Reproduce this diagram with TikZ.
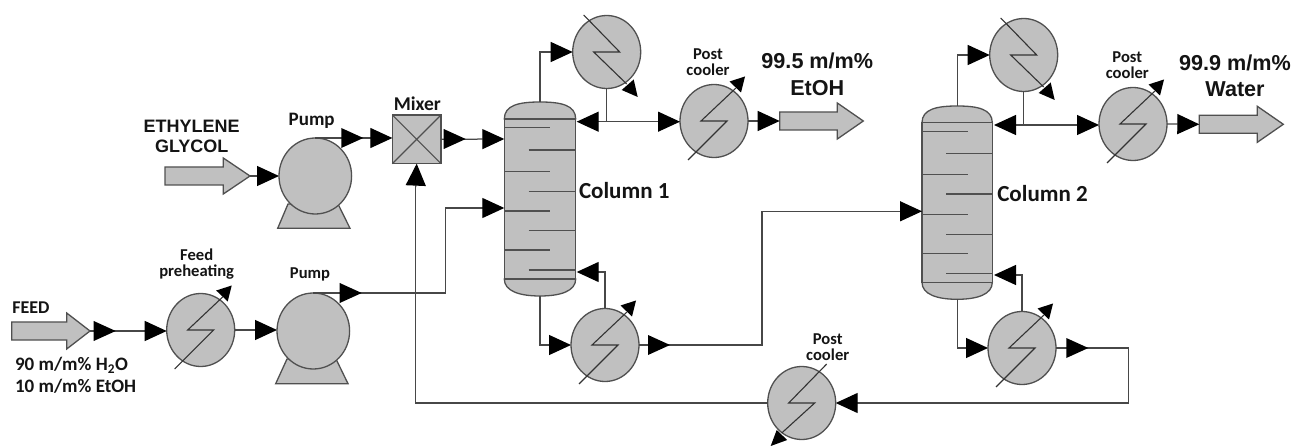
\documentclass[tikz,border=0pt]{standalone}
\usepackage{fontspec}
\setmainfont{Carlito}
\newfontfamily\arl{Liberation Sans}
\usetikzlibrary{shapes.geometric,arrows.meta,calc}
\definecolor{eqfill}{HTML}{C0C0C0}
\definecolor{eqline}{HTML}{505050}
\tikzset{
  eqstyle/.style={draw=eqline,fill=eqfill,line width=1.3pt},
  hx/.style={eqstyle,ellipse,minimum width=68pt,minimum height=73pt,inner sep=0pt,outer sep=0pt},
  pumpbody/.style={eqstyle,ellipse,minimum width=72.6pt,minimum height=76pt,inner sep=0pt,outer sep=0pt},
  colbody/.style={eqstyle,rectangle,inner sep=0pt,outer sep=0pt},
  mixbox/.style={eqstyle,rectangle,minimum width=48.7pt,minimum height=48.7pt,inner sep=0pt,outer sep=0pt},
  coil/.style={draw=black!80,line width=1.1pt},
  tray/.style={draw=eqline,line width=1.2pt},
  flow/.style={draw=black!72,line width=1.25pt},
  flowin/.style={flow,-{Triangle[length=22pt,width=20pt,fill=black,color=black]}},
  tip/.style={fill=black},
  lab/.style 2 args={font=\fontsize{#1}{#2}\selectfont\bfseries,inner sep=0pt,outer sep=0pt,align=center,text=black!92},
  alab/.style 2 args={font=\arl\fontsize{#1}{#2}\selectfont\bfseries,inner sep=0pt,outer sep=0pt,align=center,text=black!92},
}
% arrowhead in the run of a line: tip x, tip y, direction
\newcommand{\midtip}[3]{\fill[tip,shift={(#1,#2)},rotate=#3] (0,0)--(-22,10)--(-22,-10)--cycle;}
% hollow process stream arrow: tail x, tip x, y, head base x
\newcommand{\bigarrow}[5]{\node[eqstyle,inner sep=0pt,minimum size=0pt] (#1) at (#2,#4) {};
  \filldraw[eqstyle] (#2,#4-9)--(#5,#4-9)--(#5,#4-18)--(#3,#4)--(#5,#4+18)--(#5,#4+9)--(#2,#4+9)--cycle;}
\newcommand{\hxup}[1]{\begin{scope}[shift={(#1.center)}]
  \draw[coil] (-26,39)--(13,0)--(-13,0)--(22,-33);
  \fill[tip] (31,-44.5)--(15.5,-39.5)--(27,-28.5)--cycle;\end{scope}}
\newcommand{\hxdown}[1]{\begin{scope}[shift={(#1.center)}]
  \draw[coil] (-23,-37)--(13,0)--(-13,0)--(20,32);
  \fill[tip] (31,45)--(15,38)--(27,27.5)--cycle;\end{scope}}
\newcommand{\hxback}[1]{\begin{scope}[shift={(#1.center)}]
  \draw[coil] (25,-39)--(-13,0)--(13,0)--(-20,30);
  \fill[tip] (-31,43)--(-14.5,37)--(-25,27)--cycle;\end{scope}}
\newcommand{\domes}[5]{% left, right, top apex, top line, bottom line
  \filldraw[eqstyle] (#1,#4) .. controls (#1,#3+3) and (#1+15,#3) .. ({(#1+#2)/2},#3) .. controls (#2-15,#3) and (#2,#3+3) .. (#2,#4)--cycle;
  \filldraw[eqstyle] (#1,#5) .. controls (#1,#5+12) and (#1+15,#5+17) .. ({(#1+#2)/2},#5+17) .. controls (#2-15,#5+17) and (#2,#5+12) .. (#2,#5)--cycle;}
\begin{document}
\begin{tikzpicture}[x=1pt,y=-1pt]
\useasboundingbox (0,0) rectangle (1293,446);
% ------- equipment
\fill[eqfill,draw=eqline,line width=1.3pt] (277.7,228.3)--(288,204)--(338,204)--(350,228.3)--cycle;
\fill[eqfill,draw=eqline,line width=1.3pt] (275.7,383.7)--(287,359)--(336,359)--(348,383.7)--cycle;
\node[pumpbody] (pump1) at (315.3,176) {};
\node[pumpbody] (pump2) at (313.3,331) {};
\node[mixbox] (mixer) at (416.7,139.3) {};
\draw[eqline,line width=1.1pt] (mixer.north west)--(mixer.south east) (mixer.north east)--(mixer.south west);

\domes{504.3}{575.7}{102}{119}{279}
\node[colbody,minimum width=71.4pt,minimum height=160pt] (col1) at (540,199) {};
\domes{922}{992.3}{106}{122.7}{282.3}
\node[colbody,minimum width=70.3pt,minimum height=159.6pt] (col2) at (957.15,202.5) {};
\foreach \y in {127.7,171.3,211,250} \draw[tray] (504.3,\y)--(550,\y);
\foreach \y in {150,191.3,230.7,270} \draw[tray] (528.7,\y)--(575.7,\y);
\foreach \y in {131.3,174.3,214.3,253.3} \draw[tray] (922,\y)--(968.3,\y);
\foreach \y in {153.3,194,234.3,273.3} \draw[tray] (946,\y)--(992.3,\y);

\node[hx] (preheat) at (200.7,330) {};
\node[hx] (cond1) at (606.7,52) {};
\node[hx] (post1) at (714,121) {};
\node[hx] (reb1) at (605,345) {};
\node[hx] (post3) at (801.7,403) {};
\node[hx] (cond2) at (1023.7,55) {};
\node[hx] (post2) at (1133,124) {};
\node[hx] (reb2) at (1022,348) {};
\hxup{preheat}\hxdown{cond1}\hxup{post1}\hxup{reb1}\hxback{post3}\hxdown{cond2}\hxup{post2}\hxup{reb2}

\bigarrow{feedarrow}{11.7}{90}{331}{66.7}
\bigarrow{glycolarrow}{165}{250}{176}{223.3}
\bigarrow{etoharrow}{779.7}{863.3}{121}{837.3}
\bigarrow{waterarrow}{1199.3}{1283.3}{124.3}{1257.3}

% ------- named free ends on the columns and the tops/bottoms
\coordinate (feedtip) at (90,331);
\coordinate (glytip) at (250,176);
\coordinate (etohtail) at (779.7,121);
\coordinate (watertail) at (1199.3,124.3);
\coordinate (c1in1) at (504.3,139);
\coordinate (c1in2) at (504.3,208);
\coordinate (c1top) at (540,102);
\coordinate (c1bot) at (540,296);
\coordinate (c1ref) at (576.7,121.7);
\coordinate (c1reb) at (576.7,272);
\coordinate (c2in) at (922,211.3);
\coordinate (c2top) at (957.3,106);
\coordinate (c2bot) at (957.3,299.3);
\coordinate (c2ref) at (994,125);
\coordinate (c2reb) at (994,275);
\coordinate (j1) at (cond1.south |- c1ref);
\coordinate (j2) at (cond2.south |- c2ref);

% ------- connectors
\draw[flowin] (feedtip) -- (preheat.west |- feedtip);
\midtip{115.7}{331}{0}
\draw[flowin] (preheat.east) -- (pump2.west |- preheat.east);
\draw[flowin] (glytip) -- (pump1.west |- glytip);
\draw[flowin] (pump1.north) -- (pump1.north -| mixer.west);
\midtip{363.3}{138}{0}
\draw[flowin] (mixer.east) -- (c1in1);
\midtip{465.7}{139}{0}
\draw[flowin] (pump2.north) -- (445.3,293) -- (445.3,208) -- (c1in2);
\midtip{361.7}{293}{0}
\draw[flowin] (c1top) |- (cond1.west);
\draw[flow] (cond1.south) -- (j1);
\draw[flowin] (j1) -- (c1ref);
\draw[flowin] (j1) -- (post1.west |- j1);
\draw[flowin] (post1.east) -- (etohtail);
\draw[flowin] (c1bot) |- (reb1.west);
\draw[flowin] (reb1.north) |- (c1reb);
\draw[flowin] (reb1.east) -- (762,345) -- (762,211.3) -- (c2in);
\midtip{670}{345}{0}
\draw[flowin] (c2top) |- (cond2.west);
\draw[flow] (cond2.south) -- (j2);
\draw[flowin] (j2) -- (c2ref);
\draw[flowin] (j2) -- (post2.west |- j2);
\draw[flowin] (post2.east) -- (watertail);
\draw[flowin] (c2bot) |- (reb2.west);
\draw[flowin] (reb2.north) |- (c2reb);
\draw[flowin] (reb2.east) -- (1128.3,348) -- (1128.3,403) -- (post3.east);
\midtip{1088.3}{348}{0}
\draw[flow] (post3.west) -| (415.7,187);
\draw[flowin] (415.7,187) -- (mixer.south);

% ------- labels
\node[alab={18}{19.5}] (lglycol) at (191.7,136.5) {ETHYLENE\\GLYCOL};
\node[lab={19}{19}] (lpump1) at (311.7,120.5) {Pump};
\node[lab={16.6}{16}] (lpump2) at (310,274) {Pump};
\node[lab={19.5}{19}] (lmixer) at (417.3,104) {Mixer};
\node[lab={16.6}{16}] (lpre) at (196.7,264) {Feed\\preheating};
\node[lab={18}{18}] (lfeed) at (31,308) {FEED};
\node[lab={19}{22},anchor=west,align=left] (lcomp) at (15,375) {90 m/m\% H\textsubscript{2}O\\10 m/m\% EtOH};
\node[lab={16.6}{16}] (lpc1) at (708,62) {Post\\cooler};
\node[lab={16.6}{16}] (lpc2) at (1127.3,65.5) {Post\\cooler};
\node[lab={16.6}{16}] (lpc3) at (827.7,347.5) {Post\\cooler};
\node[lab={23}{23},anchor=west] (lcol1) at (579,191) {Column 1};
\node[lab={23}{23},anchor=west] (lcol2) at (997.3,194) {Column 2};
\node[alab={21.6}{27}] (letoh) at (817.3,74.5) {99.5 m/m\%\\EtOH};
\node[alab={21.6}{26}] (lwater) at (1235,76) {99.9 m/m\%\\Water};
\end{tikzpicture}
\end{document}
